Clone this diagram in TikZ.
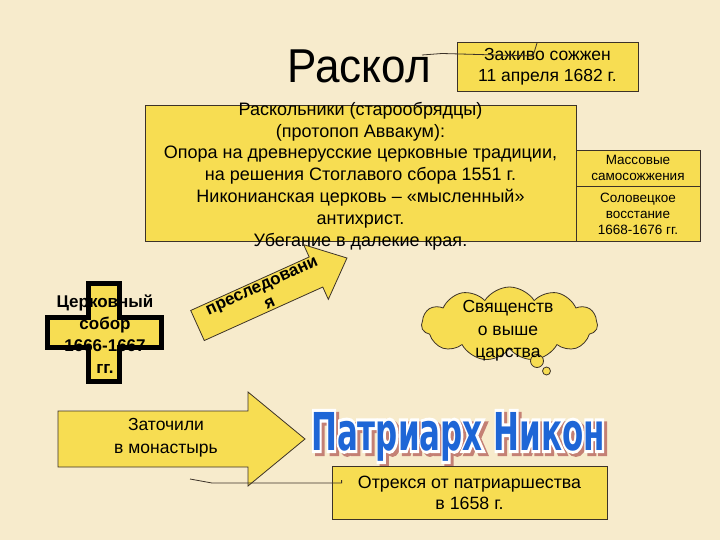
\documentclass[tikz,border=0pt]{standalone}
\usepackage{fontspec}
\setmainfont{Liberation Sans}
\newfontfamily\wordart{DejaVu Sans}[UprightFont={* Bold}]
\newfontfamily\wordartedge{DejaVu Sans}[UprightFont={* Bold}, FakeBold=12]
\usepackage{tikz}
\usetikzlibrary{shapes,shapes.symbols,positioning}

\definecolor{bgcream}{RGB}{247,235,204}
\definecolor{boxyellow}{RGB}{247,221,82}
\definecolor{boxline}{RGB}{60,50,40}
\definecolor{nikonblue}{RGB}{30,102,214}
\definecolor{nikonshadow}{RGB}{196,128,116}

\newcommand{\nikontext}{\scalebox{0.86}[1.45]{Патриарх Никон}}

\tikzset{
	ybox/.style={draw=boxline, fill=boxyellow, line width=0.8pt, inner sep=0pt},
	ytext/.style={align=center, inner sep=0pt},
	callout/.style={draw=boxline, line width=0.8pt}
}

\begin{document}
\begin{tikzpicture}[x=1pt,y=-1pt]
	\useasboundingbox (0,0) rectangle (720,540);
	\fill[bgcream] (0,0) rectangle (720,540);
	
	\node[ytext, font=\fontsize{44}{50}\selectfont] (raskol) at (359,66) {\scalebox{1}[1.08]{Раскол}};
	\node[ybox, minimum width=181, minimum height=49] (zhiv) at (547.5,66.5) {};
	\node[ytext, font=\fontsize{17.5}{20.5}\selectfont] (zhivtext) at (zhiv.center) {Заживо сожжен\\11 апреля 1682 г.};
	\coordinate (rtail) at (422,55);
	\draw[callout] (rtail) -- (442,53.5) -- (533,56) -- (537,43);
	
	\node[ybox, minimum width=431, minimum height=136] (raskbox) at (360.5,173) {};
	\node[ytext, font=\fontsize{18}{21.8}\selectfont] (rasktext) at (360.5,176) {Раскольники (старообрядцы)\\(протопоп Аввакум):\\Опора на древнерусские церковные традиции,\\на решения Стоглавого сбора 1551 г.\\Никонианская церковь -- «мысленный»\\антихрист.\\Убегание в далекие края.};
	\node[ybox, minimum width=124, minimum height=36] (massov) at (638,168) {};
	\node[ytext, font=\fontsize{13.5}{15.5}\selectfont] at (massov.center) {Массовые\\самосожжения};
	\node[ybox, minimum width=124, minimum height=55] (solov) at (638,213.5) {};
	\node[ytext, font=\fontsize{13.5}{16}\selectfont] at (solov.center) {Соловецкое\\восстание\\1668-1676 гг.};
	
	\draw[line width=5pt, fill=boxyellow, line join=miter] (88.5,283.5) -- (119.5,283.5) -- (119.5,317.5) -- (161.5,317.5) -- (161.5,347.5) -- (119.5,347.5) -- (119.5,381.5) -- (88.5,381.5) -- (88.5,347.5) -- (47.5,347.5) -- (47.5,317.5) -- (88.5,317.5) -- cycle;
	\node[ytext, font=\bfseries\fontsize{17}{22}\selectfont] (sobor) at (105,334) {Церковный\\собор\\1666-1667\\гг.};
	
	\begin{scope}[shift={(197.5,325.5)}, rotate=24.3]
		\draw[callout, fill=boxyellow] (0,-16.5) -- (130,-16.5) -- (130,-30) -- (164,0) -- (130,30) -- (130,16.5) -- (0,16.5) -- cycle;
		\node[ytext, rotate=24.3, font=\bfseries\fontsize{17}{19}\selectfont] (presl) at (75,0) {преследовани\\я};
	\end{scope}
	
	\node[cloud, cloud puffs=11, cloud puff arc=115, aspect=2.4, draw=boxline, fill=boxyellow, line width=0.8pt, minimum width=176, minimum height=74] (cloud) at (509.5,324) {};
	\draw[callout, fill=boxyellow] (537,361) circle (6.5);
	\draw[callout, fill=boxyellow] (546.5,371) circle (4);
	\node[ytext, font=\fontsize{17.5}{22.5}\selectfont] (cloudtext) at (508,331) {Священств\\о выше\\царства};
	
	\draw[callout, fill=boxyellow] (58,411) -- (248,411) -- (248,392) -- (305,439) -- (248,486) -- (248,467) -- (58,467) -- cycle;
	\node[ytext, font=\fontsize{17.5}{23}\selectfont] (zatoch) at (166,438) {Заточили\\в монастырь};
	
	\node[ytext, anchor=base, text=nikonshadow, font=\wordartedge\fontsize{36}{36}\selectfont] (nikonshade) at (461,453) {\nikontext};
	\node[ytext, anchor=base, text=white, font=\wordartedge\fontsize{36}{36}\selectfont] (nikonedge) at (458,450) {\nikontext};
	\node[ytext, anchor=base, text=nikonblue, font=\wordart\fontsize{36}{36}\selectfont] (nikon) at (458,450) {\nikontext};
	
	\node[ybox, minimum width=275, minimum height=53] (otrek) at (469.5,492.5) {};
	\node[ytext, font=\fontsize{17.8}{21}\selectfont] (otrektext) at (otrek.center) {Отрекся от патриаршества\\в 1658 г.};
	\coordinate (otail) at (190,479);
	\draw[callout] (otail) -- (212,483) -- (otrek.west |- 0,483) -- ++(10,0) -- ++(0,-3);
\end{tikzpicture}
\end{document}
